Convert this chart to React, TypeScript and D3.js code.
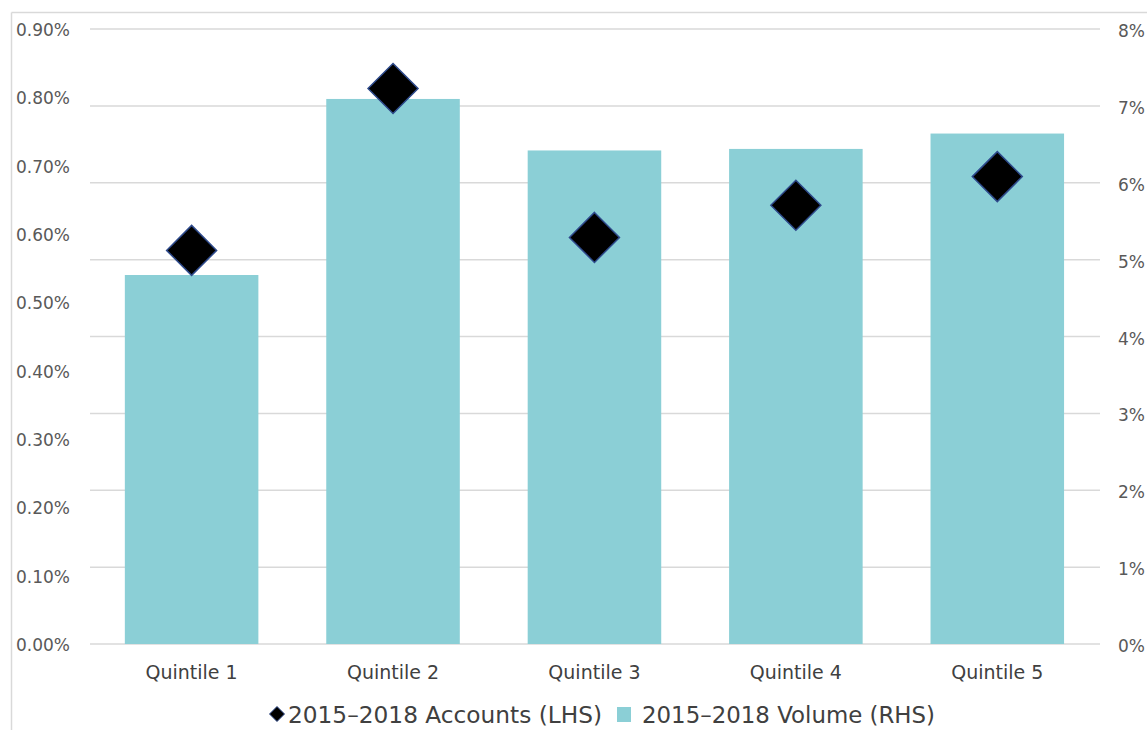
import React from "react";
import * as d3 from "d3";

const categories = ["Quintile 1", "Quintile 2", "Quintile 3", "Quintile 4", "Quintile 5"];
const accountsLHS = [0.576, 0.813, 0.595, 0.642, 0.684];
const volumeRHS = [4.8, 7.09, 6.42, 6.44, 6.64];
const leftTicks = [0, 0.1, 0.2, 0.3, 0.4, 0.5, 0.6, 0.7, 0.8, 0.9];
const rightTicks = [0, 1, 2, 3, 4, 5, 6, 7, 8];
const legendAccounts = "2015\u20132018 Accounts (LHS)";
const legendVolume = "2015\u20132018 Volume (RHS)";

const W = 1147;
const H = 730;
const FONT = "'DejaVu Sans', sans-serif";
const BAR = "#8BCFD6";
const GRID = "#D9D9D9";

export default function App() {
  const x = d3
    .scaleBand<string>()
    .domain(categories)
    .range([90.9, 1098])
    .paddingInner(0.337)
    .paddingOuter(0.1685);
  const yL = d3.scaleLinear().domain([0, 0.9]).range([644, 29]);
  const yR = d3.scaleLinear().domain([0, 8]).range([644, 29]);
  const d = 25;
  const diamond = (cx: number, cy: number, r: number) =>
    `M${cx},${cy - r}L${cx + r},${cy}L${cx},${cy + r}L${cx - r},${cy}Z`;

  return (
    <svg
      width={W}
      height={H}
      style={{ position: "absolute", left: 0, top: 0, background: "#fff" }}
      fontFamily={FONT}
    >
      <rect x={0} y={0} width={W} height={H} fill="#fff" />
      {/* frame */}
      <line x1={11.5} x2={W} y1={12.5} y2={12.5} stroke={GRID} strokeWidth={1.5} />
      <line x1={11.5} x2={11.5} y1={12.5} y2={H} stroke={GRID} strokeWidth={1.5} />

      {/* gridlines (right axis) */}
      {rightTicks.map((t) => (
        <line
          key={"g" + t}
          x1={90}
          x2={1100}
          y1={yR(t)}
          y2={yR(t)}
          stroke={GRID}
          strokeWidth={1.5}
        />
      ))}

      {/* bars */}
      {categories.map((c, i) => (
        <rect
          key={"b" + c}
          x={x(c)}
          y={yR(volumeRHS[i])}
          width={x.bandwidth()}
          height={yR(0) - yR(volumeRHS[i])}
          fill={BAR}
        />
      ))}

      {/* markers */}
      {categories.map((c, i) => (
        <path
          key={"m" + c}
          d={diamond((x(c) as number) + x.bandwidth() / 2, yL(accountsLHS[i]), d)}
          fill="#000"
          stroke="#2E4A8C"
          strokeWidth={1.5}
        />
      ))}

      {/* left axis labels */}
      {leftTicks.map((t) => (
        <text
          key={"l" + t}
          x={70}
          y={yL(t) + 1}
          dy="0.36em"
          textAnchor="end"
          fontSize={17}
          fill="#595959"
        >
          {t.toFixed(2) + "%"}
        </text>
      ))}

      {/* right axis labels */}
      {rightTicks.map((t) => (
        <text
          key={"r" + t}
          x={1118}
          y={yR(t) + 2}
          dy="0.36em"
          textAnchor="start"
          fontSize={17}
          fill="#595959"
        >
          {t + "%"}
        </text>
      ))}

      {/* category labels */}
      {categories.map((c) => (
        <text
          key={"x" + c}
          x={(x(c) as number) + x.bandwidth() / 2}
          y={679}
          textAnchor="middle"
          fontSize={19}
          fill="#404040"
        >
          {c}
        </text>
      ))}

      {/* legend */}
      <path d={diamond(277, 714, 7.5)} fill="#000" stroke="#2E4A8C" strokeWidth={1} />
      <text
        x={288}
        y={723}
        fontSize={23}
        fill="#404040"
        textLength={314}
        lengthAdjust="spacingAndGlyphs"
      >
        {legendAccounts}
      </text>
      <rect x={617} y={707} width={14} height={15} fill={BAR} />
      <text
        x={642}
        y={723}
        fontSize={23}
        fill="#404040"
        textLength={293}
        lengthAdjust="spacingAndGlyphs"
      >
        {legendVolume}
      </text>
    </svg>
  );
}
